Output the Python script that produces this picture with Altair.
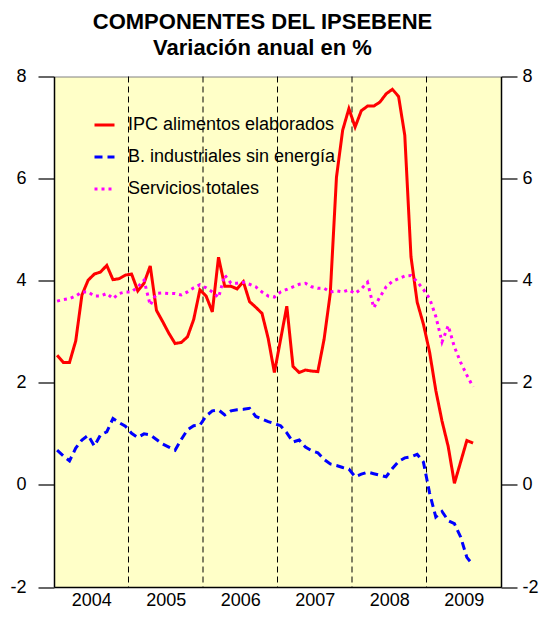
import altair as alt
import pandas as pd

series_names = ["IPC alimentos elaborados", "B. industriales sin energía", "Servicios totales"]
series_colors = ["#ff0000", "#0000ff", "#ff00ff"]

# monthly values, Jan 2004 .. Aug 2009
ipc = [2.54, 2.40, 2.40, 2.82, 3.72, 4.01, 4.13, 4.17, 4.30, 4.02, 4.04, 4.11,
       4.13, 3.80, 3.95, 4.29, 3.42, 3.20, 2.97, 2.77, 2.79, 2.90, 3.24, 3.82,
       3.70, 3.39, 4.46, 3.89, 3.89, 3.84, 3.98, 3.59, 3.48, 3.36, 2.87, 2.20,
       2.85, 3.50, 2.32, 2.20, 2.25, 2.23, 2.22, 2.85, 3.75, 6.03, 6.95, 7.37,
       7.01, 7.33, 7.42, 7.42, 7.50, 7.66, 7.75, 7.61, 6.85, 4.47, 3.58, 3.15,
       2.60, 1.85, 1.25, 0.75, 0.03, 0.45, 0.87, 0.82]
bind = [0.68, 0.57, 0.47, 0.72, 0.88, 0.97, 0.76, 0.98, 1.04, 1.30, 1.22, 1.15,
        1.01, 0.93, 1.00, 0.98, 0.89, 0.80, 0.74, 0.68, 0.89, 1.08, 1.16, 1.17,
        1.35, 1.45, 1.47, 1.37, 1.45, 1.47, 1.48, 1.50, 1.34, 1.29, 1.24, 1.20,
        1.16, 1.02, 0.84, 0.88, 0.74, 0.67, 0.63, 0.50, 0.41, 0.38, 0.34, 0.31,
        0.16, 0.21, 0.25, 0.22, 0.19, 0.16, 0.32, 0.46, 0.53, 0.55, 0.60, 0.45,
        -0.16, -0.63, -0.52, -0.70, -0.76, -1.02, -1.42, -1.57]
serv = [3.60, 3.63, 3.65, 3.70, 3.78, 3.78, 3.70, 3.70, 3.75, 3.65, 3.75, 3.78,
        3.78, 3.88, 4.01, 3.52, 3.75, 3.76, 3.75, 3.75, 3.72, 3.78, 3.86, 3.92,
        3.86, 3.78, 3.67, 4.11, 3.95, 3.95, 3.97, 3.93, 3.88, 3.78, 3.70, 3.68,
        3.78, 3.83, 3.88, 3.93, 3.95, 3.88, 3.85, 3.85, 3.78, 3.80, 3.78, 3.82,
        3.75, 3.84, 3.97, 3.47, 3.68, 3.88, 3.99, 4.04, 4.09, 4.10, 3.98, 3.83,
        3.65, 3.30, 2.80, 3.12, 2.70, 2.40, 2.15, 1.92]

start_year = 2004
year_breaks = [2005, 2006, 2007, 2008, 2009]
year_labels = [2004, 2005, 2006, 2007, 2008, 2009]
y_ticks = [-2, 0, 2, 4, 6, 8]

rows = []
for name, vals in zip(series_names, [ipc, bind, serv]):
    for i, v in enumerate(vals):
        rows.append({"t": start_year + (i + 0.5) / 12, "v": v, "serie": name})
df = pd.DataFrame(rows)

FONT = "Liberation Sans"
xscale = alt.Scale(domain=[2004, 2010], nice=False, zero=False)
yscale = alt.Scale(domain=[-2, 8], nice=False, zero=False)

xaxis = alt.Axis(values=[y + 0.5 for y in year_labels], labelExpr="floor(datum.value)",
                 ticks=False, grid=False, title=None, domainColor="black", domainWidth=1.5,
                 labelFontSize=18, labelFont=FONT, labelColor="black", labelPadding=4)

def yaxis(orient, pad):
    return alt.Axis(values=y_ticks, orient=orient, grid=False, title=None,
                    tickSize=16, tickColor="black", tickWidth=1.2,
                    domainColor="black", domainWidth=1.5,
                    labelExpr="toString(datum.value)",
                    labelFontSize=18, labelFont=FONT, labelColor="black",
                    labelPadding=pad)

legend = alt.Legend(title=None, orient="none", legendX=39, legendY=37,
                    symbolType="stroke", symbolSize=400, symbolStrokeWidth=3,
                    labelFontSize=18, labelFont=FONT, labelColor="black",
                    labelOffset=12, rowPadding=11, labelLimit=400)

rules = alt.Chart(pd.DataFrame({"t": year_breaks})).mark_rule(
    color="black", strokeDash=[6, 4], strokeWidth=1
).encode(x=alt.X("t:Q", scale=xscale, axis=xaxis))

lines = alt.Chart(df).mark_line(strokeWidth=3).encode(
    x=alt.X("t:Q", scale=xscale, axis=xaxis),
    y=alt.Y("v:Q", scale=yscale, axis=yaxis("left", 12)),
    color=alt.Color("serie:N", scale=alt.Scale(domain=series_names, range=series_colors),
                    legend=legend),
    strokeDash=alt.StrokeDash("serie:N",
                              scale=alt.Scale(domain=series_names, range=[[1, 0], [8, 5], [3, 4]]),
                              legend=legend),
)

right = alt.Chart(df).mark_line(opacity=0).encode(
    x=alt.X("t:Q", scale=xscale, axis=xaxis),
    y=alt.Y("v:Q", scale=yscale, axis=yaxis("right", 5)),
)

chart = alt.layer(rules, lines, right).resolve_scale(y="independent").properties(
    width=447, height=510.5,
    padding={"left": 46, "top": 68.5, "right": 38, "bottom": 23},
    autosize=alt.AutoSizeParams(type="none"),
    title=alt.TitleParams(
        text=["COMPONENTES DEL IPSEBENE", "Variación anual en %"],
        fontSize=22, fontWeight="bold", font=FONT, color="black",
        anchor="middle", dx=-15, lineHeight=26, offset=8,
    ),
).configure_view(fill="#FFFFC8", stroke="#808080", strokeWidth=1)

chart.save("out.html", embed_options={"renderer": "svg", "actions": False})
